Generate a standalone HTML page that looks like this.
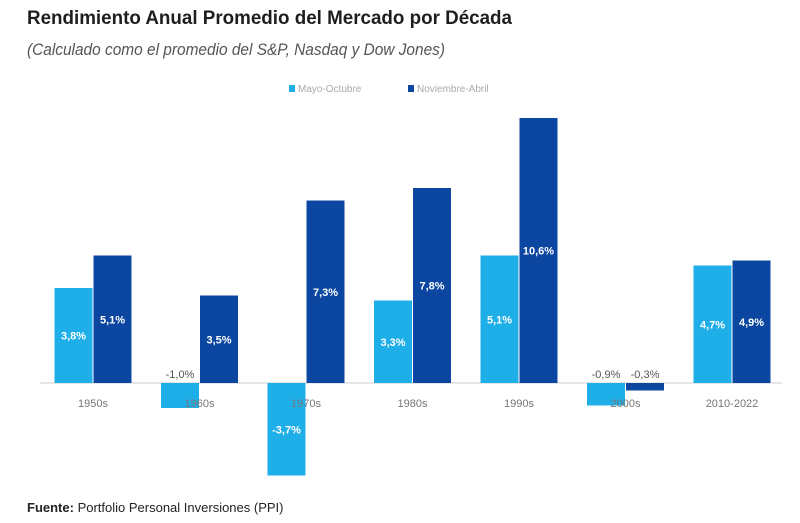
<!DOCTYPE html>
<html><head><meta charset="utf-8"><style>
body{margin:0;background:#fff;width:800px;height:518px;overflow:hidden;font-family:"Liberation Sans",sans-serif}
</style></head><body>
<svg id="c" width="800" height="518" xmlns="http://www.w3.org/2000/svg">
<text x="27" y="24" font-size="19" font-weight="bold" fill="#1e1e1e" textLength="485" lengthAdjust="spacingAndGlyphs">Rendimiento Anual Promedio del Mercado por Década</text>
<text x="27" y="55" font-size="17" font-style="italic" fill="#555" textLength="418" lengthAdjust="spacingAndGlyphs">(Calculado como el promedio del S&amp;P, Nasdaq y Dow Jones)</text>
<g>
<rect x="289" y="85" width="6" height="7" fill="#1eaee8"/>
<text x="298" y="92" font-size="10" fill="#aaa">Mayo-Octubre</text>
<rect x="408" y="85" width="6" height="7" fill="#0b46a0"/>
<text x="417" y="92" font-size="10" fill="#aaa">Noviembre-Abril</text>
</g>
<line x1="40" y1="383" x2="782" y2="383" stroke="#ddd" stroke-width="1.5"/>
<g id="bars"></g>
<text x="27" y="512" font-size="13" fill="#222"><tspan font-weight="bold">Fuente:</tspan> Portfolio Personal Inversiones (PPI)</text>
</svg>
<script>
const categories=["1950s","1960s","1970s","1980s","1990s","2000s","2010-2022"];
const mayoOctubre=[3.8,-1.0,-3.7,3.3,5.1,-0.9,4.7];
const noviembreAbril=[5.1,3.5,7.3,7.8,10.6,-0.3,4.9];
const NS="http://www.w3.org/2000/svg";
const g=document.getElementById("bars");
const base=383, pxPer=25;
const y=v=>base-v*pxPer;
const xc=i=>93+i*106.5;
const bw=38;
function fmt(v){return v.toFixed(1).replace(".",",")+"%";}
function mk(t,a){const e=document.createElementNS(NS,t);for(const k in a)e.setAttribute(k,a[k]);g.appendChild(e);return e;}
categories.forEach((c,i)=>{
  [[mayoOctubre[i],"#1eaee8",xc(i)-bw-0.5,"mayo"],[noviembreAbril[i],"#0b46a0",xc(i)+0.5,"noviembre"]].forEach(([v,col,x,s])=>{
    const top=Math.min(y(v),base),h=Math.abs(y(v)-base);
    const r=mk("rect",{x:x,y:top,width:bw,height:h,fill:col});
    
    
    let t;
    if(h>30){
      t=mk("text",{x:x+bw/2,y:top+h/2+4,"text-anchor":"middle","font-size":"11","font-weight":"bold",fill:"#fff"});
    }else{
      t=mk("text",{x:x+bw/2,y:base-5,"text-anchor":"middle","font-size":"11",fill:"#555"});
    }
    t.textContent=fmt(v);
    
    
  });
  const l=mk("text",{x:xc(i),y:407,"text-anchor":"middle","font-size":"11",fill:"#777"});
  l.textContent=c;
  
  
});
</script>
</body></html>
